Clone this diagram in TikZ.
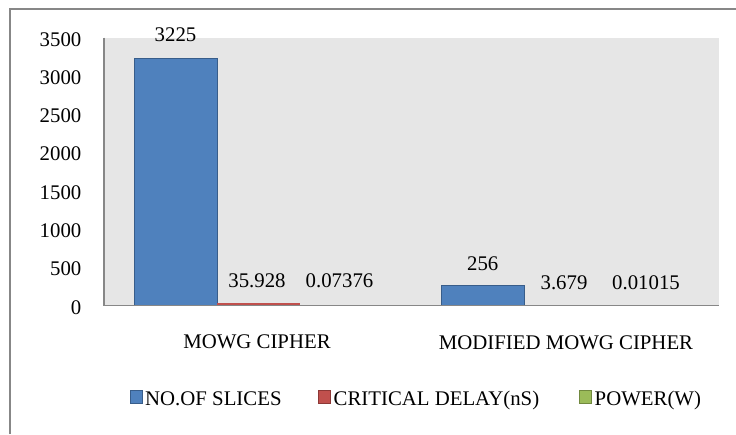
\documentclass[tikz,border=0pt]{standalone}
\usepackage{fontspec}
\setmainfont{Liberation Serif}
\definecolor{bblue}{HTML}{4F81BD}
\definecolor{bblueD}{HTML}{385D8A}
\definecolor{rred}{HTML}{C0504D}
\definecolor{rredD}{HTML}{8C3836}
\definecolor{ggreen}{HTML}{9BBB59}
\definecolor{ggreenD}{HTML}{71893F}
\definecolor{plotbg}{HTML}{E6E6E6}
\definecolor{axisgray}{HTML}{878787}
\begin{document}
\begin{tikzpicture}[x=1pt,y=-1pt,
  lbl/.style={font=\fontsize{20.8}{24}\selectfont, inner sep=0pt},
  legsq/.style={minimum size=12.5pt, inner sep=0pt, line width=0.8pt},
  barblue/.style={fill=bblue, draw=bblueD, line width=1pt},
  barred/.style={fill=rred, draw=rred, line width=0.6pt}]
\useasboundingbox (0,0) rectangle (736,434);
\fill[white] (0,0) rectangle (736,434);
% outer frame
\draw[axisgray, line width=2pt] (9.5,434) -- (9.5,8.5) -- (736,8.5);
% plot area
\fill[plotbg] (104,37.5) rectangle (718.5,305.5);
% bars
\filldraw[barblue] (134.5,58.6) rectangle (217,305.5);
\filldraw[barred] (217,302.8) rectangle (299,305.5);
\filldraw[barblue] (441.5,285.9) rectangle (524,305.5);
% axes
\draw[axisgray, line width=1.6pt] (104,37.5) -- (104,305.5) -- (718.5,305.5);
% tick labels
\foreach \v in {0,500,...,3500}{
  \pgfmathsetmacro{\yy}{305.5-\v/3500*268+8.6}
  \node[lbl, anchor=base east] (t\v) at (81.5,\yy) {\v};
}
% data labels
\node[lbl, anchor=base] (d1) at (175.5,41.8) {3225};
\node[lbl, anchor=base] (d2) at (257,287.4) {35.928};
\node[lbl, anchor=base] (d3) at (339.5,287.4) {0.07376};
\node[lbl, anchor=base] (d4) at (482.7,270) {256};
\node[lbl, anchor=base] (d5) at (564,289.3) {3.679};
\node[lbl, anchor=base] (d6) at (646,289.3) {0.01015};
% category labels
\node[lbl, anchor=base] (c1) at (257,348.5) {MOWG CIPHER};
\node[lbl, anchor=base] (c2) at (566,349) {MODIFIED MOWG CIPHER};
% legend
\node[legsq, fill=bblue, draw=bblueD] (k1) at (136.4,397) {};
\node[lbl, anchor=base west] (l1) at (145,405) {NO.OF SLICES};
\node[legsq, fill=rred, draw=rredD] (k2) at (324.2,397) {};
\node[lbl, anchor=base west] (l2) at (333.5,405) {CRITICAL DELAY(nS)};
\node[legsq, fill=ggreen, draw=ggreenD] (k3) at (585.2,397) {};
\node[lbl, anchor=base west] (l3) at (594.5,405) {POWER(W)};
\end{tikzpicture}
\end{document}
